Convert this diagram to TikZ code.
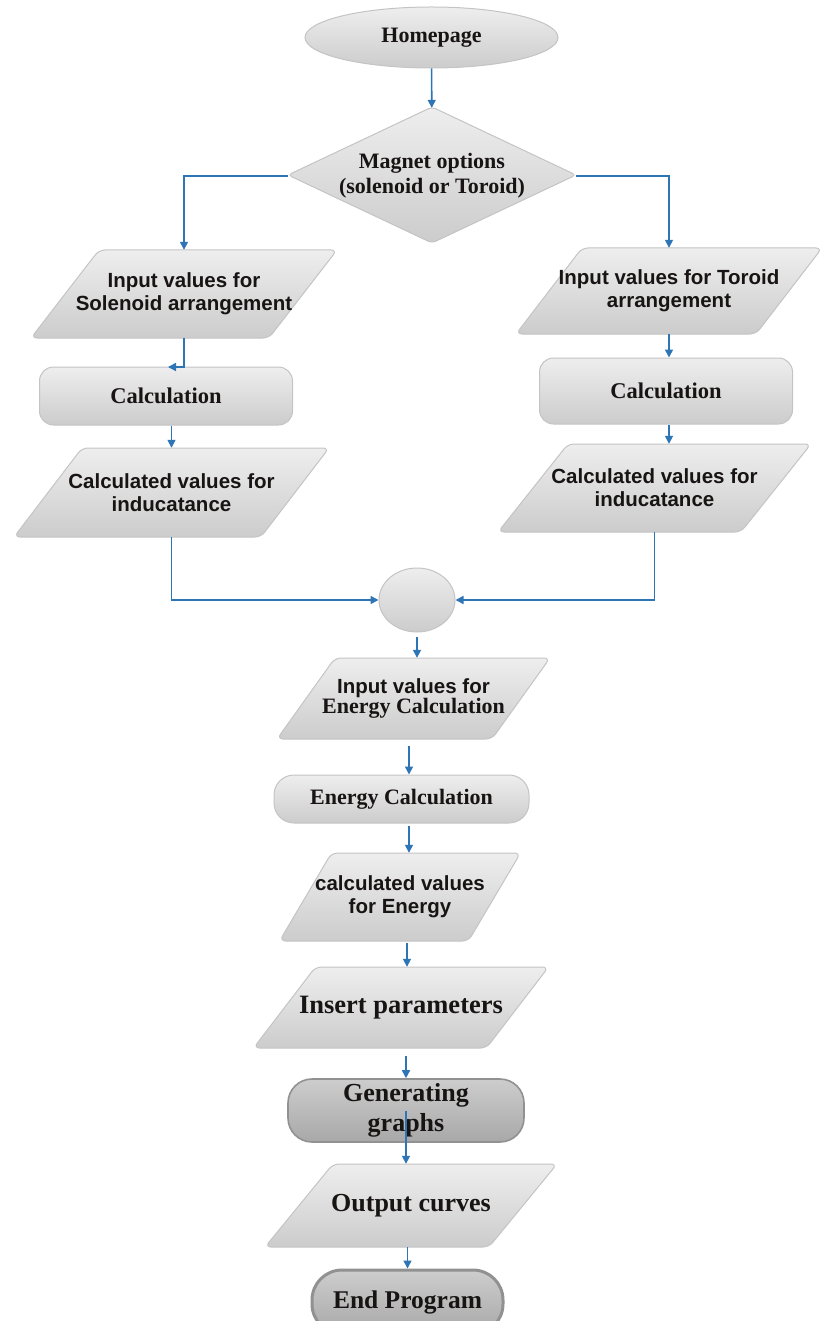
\documentclass[tikz,border=0pt]{standalone}
\usepackage{fontspec}
\setmainfont{Liberation Serif}
\newfontfamily\sansf{Liberation Sans}
\usetikzlibrary{arrows.meta,shapes.geometric}
\definecolor{arrblue}{RGB}{46,117,182}
\definecolor{boxedge}{RGB}{196,196,196}
\definecolor{boxtop}{RGB}{238,238,238}
\definecolor{boxbot}{RGB}{204,204,204}
\definecolor{darktop}{RGB}{205,205,205}
\definecolor{darkbot}{RGB}{168,168,168}
\definecolor{darkedge}{RGB}{145,145,145}
\definecolor{txt}{RGB}{25,20,20}
\newcommand{\mypara}[8]{%
  \path[parabox] ({#2-#4+#6},{#3-#5}) -- ({#2+#4+#6},{#3-#5}) -- ({#2+#4-#6},{#3+#5}) -- ({#2-#4-#6},{#3+#5}) -- cycle;
  \node[inner sep=0pt, minimum width={2*#4}, minimum height={2*#5}, align=center, text=txt, #7] (#1) at (#2,#3) {#8};}
\tikzset{
  arr/.style={draw=arrblue, line width=1.6pt, -{Triangle[length=8pt,width=8pt]}},
  parabox/.style={draw=boxedge, line width=1pt, top color=boxtop, bottom color=boxbot, rounded corners=6pt},
  rbox/.style={draw=boxedge, line width=1pt, top color=boxtop, bottom color=boxbot, rounded corners=14pt, inner sep=0pt, align=center, text=txt},
  gbox/.style={draw=darkedge, line width=1.6pt, top color=darktop, bottom color=darkbot, rounded corners=24pt, inner sep=0pt, align=center, text=txt},
  endbox/.style={draw=darkedge, line width=3pt, top color=darktop, bottom color=darkbot, rounded corners=30pt, inner sep=0pt, align=center, text=txt},
  sertext/.style={font=\bfseries\fontsize{22}{25}\selectfont},
  santext/.style={font=\sansf\bfseries\fontsize{20.5}{23}\selectfont},
  bigtext/.style={font=\bfseries\fontsize{26}{30}\selectfont}
}
\begin{document}
\begin{tikzpicture}[x=1pt,y=-1pt]
\useasboundingbox (0,0) rectangle (825,1321);
% start
\node[ellipse, draw=boxedge, line width=1pt, top color=boxtop, bottom color=boxbot,
      minimum width=253pt, minimum height=61pt, inner sep=0pt, text=txt,
      font=\bfseries\fontsize{22}{25}\selectfont] (home) at (431.5,37.5) {Homepage};
% decision
\path[parabox, rounded corners=4pt] (432,107) -- (576,175) -- (432,243) -- (288,175) -- cycle;
\node[inner sep=0pt, minimum width=288pt, minimum height=136pt, align=center, text=txt, sertext] (magnet) at (432,176) {Magnet options\\(solenoid or Toroid)};
\draw[arr] (home) -- (magnet);
% left branch
\mypara{lin}{184}{294}{119}{44}{34}{santext}{Input values for\\Solenoid arrangement}
\draw[arr] (magnet.west) -| (lin.north);
\node[rbox, minimum width=253pt, minimum height=58pt, font=\bfseries\fontsize{22.5}{25}\selectfont] (lcalc) at (166,396) {Calculation};
\coordinate (lhook) at (168,367);
\draw[arr] (lin.south) |- (lhook);
\mypara{lval}{171.5}{492.5}{123.5}{44.5}{34}{santext}{Calculated values for\\inducatance}
\draw[arr] (lcalc.south -| lval.north) -- (lval.north);
% right branch
\mypara{rin}{669}{291}{120}{43}{33}{santext}{Input values for Toroid\\arrangement}
\draw[arr] (magnet.east) -| (rin.north);
\node[rbox, minimum width=253pt, minimum height=66pt, font=\bfseries\fontsize{22.5}{25}\selectfont] (rcalc) at (666,391) {Calculation};
\draw[arr] (rin.south) -- (rin.south |- rcalc.north);
\mypara{rval}{654.5}{488}{121.5}{44}{35}{santext}{Calculated values for\\inducatance}
\draw[arr] (rin.south |- rcalc.south) -- (rin.south |- rval.north);
% join
\node[ellipse, draw=boxedge, line width=1pt, top color=boxtop, bottom color=boxbot,
      minimum width=76pt, minimum height=64pt, inner sep=0pt] (join) at (417,600) {};
\draw[arr] (lval.south) |- (join.west);
\draw[arr] (rval.south) |- (join.east);
% energy
\mypara{ein}{413.5}{698.5}{107.5}{40.5}{29}{}{{\sansf\bfseries\fontsize{20.5}{23}\selectfont Input values for}\\{\bfseries\fontsize{22}{23}\selectfont Energy Calculation}}
\draw[arr, shorten <=4pt] (join.south) -- (join.south |- ein.north);
\node[rbox, rounded corners=20pt, minimum width=255pt, minimum height=48pt, font=\bfseries\fontsize{22}{24}\selectfont] (ecalc) at (401.5,799) {Energy Calculation};
\draw[arr, shorten <=7pt] ([xshift=-4.5pt]ein.south) -- ([xshift=7.5pt]ecalc.north);
\mypara{cen}{400}{897}{94.5}{44}{26}{santext}{calculated values\\for Energy}
\draw[arr, shorten <=2pt] ([xshift=7.5pt]ecalc.south) -- ([xshift=9pt]cen.north);
\mypara{ins}{401}{1007.5}{116.5}{40.5}{31}{font=\bfseries\fontsize{26.5}{30}\selectfont}{Insert parameters}
\draw[arr, shorten <=2pt] ([xshift=7pt]cen.south) -- ([xshift=6pt]ins.north);
\node[gbox, minimum width=236pt, minimum height=63pt, bigtext] (gen) at (406,1110.5) {Generating\\graphs};
\draw[arr, shorten <=8pt] ([xshift=5pt]ins.south) -- (gen.north);
\mypara{out}{411}{1205.5}{112}{41.5}{34}{bigtext}{Output curves}
\draw[arr] (gen.center) -- (gen.center |- out.north);
\node[endbox, minimum width=191pt, minimum height=64pt, font=\bfseries\fontsize{25.5}{30}\selectfont] (end) at (407.5,1302) {End Program};
\draw[arr] (end.north |- out.south) -- (end.north);
\end{tikzpicture}
\end{document}
